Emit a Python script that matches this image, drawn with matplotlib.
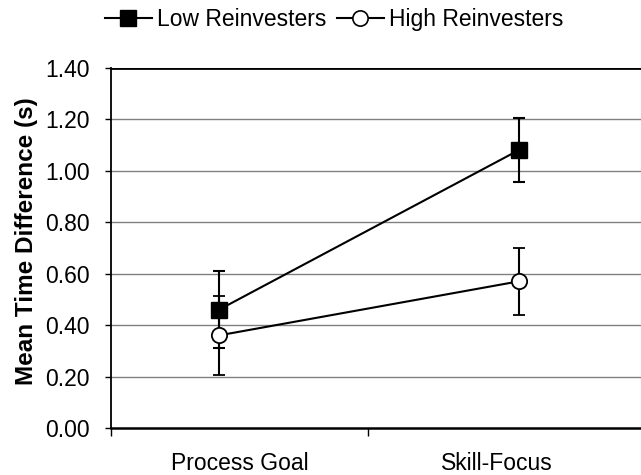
import matplotlib
matplotlib.use("Agg")
import matplotlib.pyplot as plt
from matplotlib.lines import Line2D

categories = ["Process Goal", "Skill-Focus"]
low_means = [0.46, 1.08]
low_err = [0.15, 0.125]
high_means = [0.36, 0.57]
high_err = [0.155, 0.13]
yticks = [0.0, 0.2, 0.4, 0.6, 0.8, 1.0, 1.2, 1.4]

plt.rcParams['font.family'] = ['Liberation Sans', 'DejaVu Sans']

fig = plt.figure(figsize=(6.41, 4.75), dpi=100)
ax = fig.add_axes([0.173, 0.099, 0.837, 0.758])

xpos = [0, 1]
ax.errorbar(xpos, low_means, yerr=low_err, color='black', lw=1.5, marker='s',
            ms=11.5, mfc='black', mec='black', capsize=4.5, capthick=1.5, elinewidth=1.5,
            zorder=4)
ax.errorbar(xpos, high_means, yerr=high_err, color='black', lw=1.5, marker='o',
            ms=11, mfc='white', mec='black', mew=1.3, capsize=4.5, capthick=1.5, elinewidth=1.5,
            zorder=4)

ax.set_xlim(-0.361, 1.43)
ax.set_ylim(0, 1.4)
ax.set_yticks(yticks)
ax.set_yticklabels([f"{v:.2f}" for v in yticks], fontsize=16.5)
for v in yticks[1:-1]:
    ax.axhline(v, color='#808080', lw=1.0, zorder=1)
ax.axhline(1.4, color='black', lw=2, zorder=2)

ax.spines['right'].set_visible(False)
ax.spines['top'].set_visible(False)
ax.spines['left'].set_linewidth(1.3)
ax.spines['bottom'].set_linewidth(1.8)
ax.tick_params(axis='y', direction='out', length=4, width=1, pad=11)

ax.set_xticks([-0.361, 0.497])
ax.set_xticklabels(["", ""])
ax.tick_params(axis='x', direction='out', length=6, width=1)
label_x = [0.068, 0.926]
for lx, c in zip(label_x, categories):
    ax.text(lx, -0.068, c, ha='center', va='top', fontsize=16.5,
            transform=ax.get_xaxis_transform())

ax.set_ylabel("Mean Time Difference (s)", fontsize=17.5, fontweight='bold', labelpad=3)
ax.yaxis.set_label_coords(-0.135, 0.52)

handles = [
    Line2D([], [], color='black', lw=1.5, marker='s', ms=11.5, mfc='black', mec='black'),
    Line2D([], [], color='black', lw=1.5, marker='o', ms=11, mfc='white', mec='black', mew=1.2),
]
fig.legend(handles, ["Low Reinvesters", "High Reinvesters"], loc='upper center',
           bbox_to_anchor=(0.521, 1.027), ncol=2, frameon=False,
           fontsize=16.5, handlelength=2.05, handletextpad=0.22, columnspacing=0.45)

fig.savefig("out.png", dpi=100)
